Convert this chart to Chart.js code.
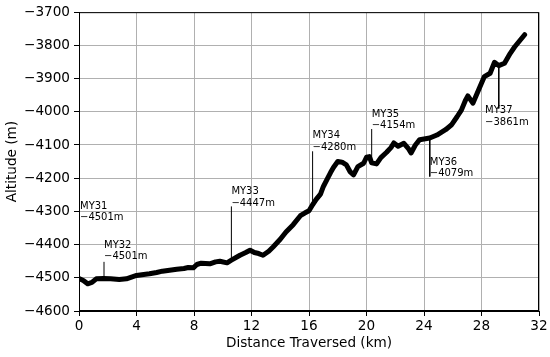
<!DOCTYPE html>
<html>
<head>
<meta charset="utf-8">
<script src="https://cdn.jsdelivr.net/npm/chart.js@4/dist/chart.umd.min.js"></script>
<style>
  html, body { margin: 0; padding: 0; background: #fff; }
  #wrap { width: 550px; height: 357px; }
</style>
</head>
<body>
<div id="wrap"><canvas id="chart"></canvas></div>
<script>
// Traverse profile
const distanceKm = [0.0, 0.3, 0.6, 0.9, 1.2, 1.7, 2.2, 2.8, 3.3, 3.7, 4.0, 4.5, 4.9, 5.4, 5.8, 6.3, 6.8, 7.3, 7.6, 7.95,
  8.2, 8.5, 9.1, 9.5, 9.8, 10.3, 10.6, 11.2, 11.6, 11.9, 12.2, 12.5, 12.8, 13.2, 13.5, 14.0, 14.4, 14.9, 15.4, 15.7,
  16.0, 16.25, 16.5, 16.8, 17.0, 17.3, 17.5, 17.7, 18.0, 18.3, 18.6, 18.85, 19.1, 19.4, 19.8, 20.0, 20.2, 20.36, 20.7, 21.0,
  21.4, 21.7, 21.9, 22.2, 22.6, 22.9, 23.1, 23.4, 23.7, 24.0, 24.4, 24.9, 25.5, 25.9, 26.3, 26.6, 26.9, 27.05, 27.4, 27.9,
  28.2, 28.6, 28.9, 29.2, 29.6, 30.0, 30.3, 30.6, 31.0];
const altitudeM = [-4502, -4508, -4518, -4514, -4503, -4502, -4503, -4505, -4503, -4497, -4493, -4490, -4488, -4484, -4480, -4477, -4474, -4472, -4469, -4470,
  -4460, -4456, -4458, -4452, -4450, -4455, -4447, -4432, -4424, -4417, -4424, -4427, -4432, -4420, -4407, -4384, -4362, -4340, -4313, -4305,
  -4298, -4280, -4264, -4248, -4225, -4200, -4183, -4168, -4150, -4152, -4160, -4180, -4190, -4165, -4155, -4137, -4135, -4154, -4157, -4138,
  -4122, -4108, -4094, -4104, -4095, -4110, -4124, -4100, -4084, -4082, -4079, -4070, -4054, -4040, -4015, -3995, -3964, -3952, -3974, -3924,
  -3894, -3884, -3851, -3861, -3854, -3824, -3805, -3789, -3768];

// Mars-year markers
const markerNames = ['MY31', 'MY32', 'MY33', 'MY34', 'MY35', 'MY36', 'MY37'];
const markerKm = [0.0, 1.74, 10.6, 16.25, 20.36, 24.4, 29.2];
const markerAlt = [-4501, -4501, -4447, -4280, -4154, -4079, -3861];
const markerLineEnd = [-4335, -4452, -4285, -4119, -4052, -4195, -3990];
const markerTextKm = [0.07, 1.74, 10.6, 16.25, 20.36, 24.4, 28.25];
const markerTextAlt = [-4334, -4451, -4290, -4122, -4057, -4202, -4046];

const FONT = 'DejaVu Sans';
const minus = s => String(s).replace('-', '\u2212');

const datasets = [{
  data: distanceKm.map((d, i) => ({ x: d, y: altitudeM[i] })),
  borderColor: '#000',
  borderWidth: 5,
  borderCapStyle: 'round',
  borderJoinStyle: 'round',
  pointRadius: 0,
  tension: 0
}];
markerNames.forEach((n, i) => {
  datasets.push({
    data: [{ x: markerKm[i], y: markerAlt[i] }, { x: markerKm[i], y: markerLineEnd[i] }],
    borderColor: '#000',
    borderWidth: 1,
    pointRadius: 0
  });
});

// frame + marker labels
const extras = {
  id: 'extras',
  afterDatasetsDraw(chart) {
    const { ctx, chartArea: a, scales: { x, y } } = chart;
    ctx.save();
    ctx.strokeStyle = '#000';
    ctx.lineWidth = 1;
    ctx.strokeRect(a.left + 0.5, a.top + 0.5, a.right - a.left - 1, a.bottom - a.top - 1);
    ctx.fillStyle = '#000';
    ctx.font = '10px "' + FONT + '"';
    ctx.textBaseline = 'middle';
    ctx.textAlign = 'left';
    markerNames.forEach((n, i) => {
      const px = x.getPixelForValue(markerTextKm[i]);
      const py = y.getPixelForValue(markerTextAlt[i]);
      ctx.fillText(n, px, py - 16.5);
      ctx.fillText(minus(markerAlt[i]) + 'm', px, py - 5);
    });
    ctx.restore();
  }
};

const tickFont = { family: "'DejaVu Sans'", size: 13.6 };

new Chart(document.getElementById('chart'), {
  type: 'line',
  data: { datasets: datasets },
  options: {
    responsive: true,
    maintainAspectRatio: false,
    animation: false,
    layout: { padding: { left: 0, right: 11, top: 12, bottom: 0 } },
    plugins: { legend: { display: false }, tooltip: { enabled: false } },
    scales: {
      x: {
        type: 'linear',
        min: 0, max: 32,
        ticks: { stepSize: 4, color: '#000', font: tickFont, padding: 2, maxRotation: 0 },
        grid: { color: '#b0b0b0', lineWidth: 1, tickColor: '#000', tickLength: 5 },
        border: { color: '#000' },
        title: { display: true, text: 'Distance Traversed (km)', color: '#000', font: tickFont, padding: { top: 0, bottom: 5 } },
        afterFit: s => { s.height = 46; }
      },
      y: {
        min: -4600, max: -3700,
        ticks: { stepSize: 100, color: '#000', font: tickFont, padding: 4, callback: v => minus(v) },
        grid: { color: '#b0b0b0', lineWidth: 1, tickColor: '#000', tickLength: 5 },
        border: { color: '#000' },
        title: { display: true, text: 'Altitude (m)', color: '#000', font: tickFont, padding: { top: 4, bottom: 0 } },
        afterFit: s => { s.width = 79; }
      }
    }
  },
  plugins: [extras]
});
</script>
</body>
</html>
